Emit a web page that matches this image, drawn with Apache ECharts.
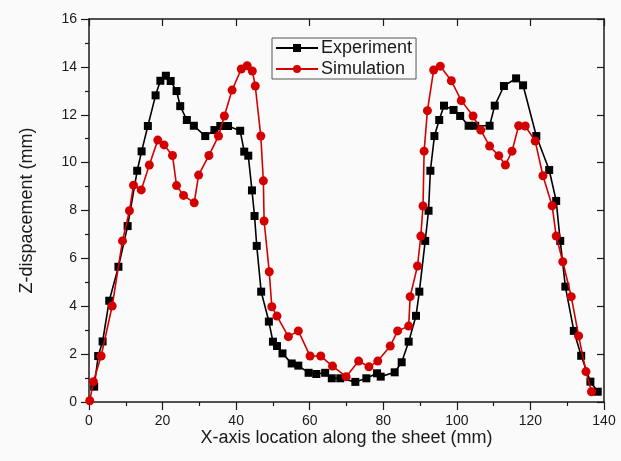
<!DOCTYPE html>
<html>
<head>
<meta charset="utf-8">
<script src="https://cdn.jsdelivr.net/npm/echarts@6/dist/echarts.min.js"></script>
<style>
  html, body { margin: 0; padding: 0; background: #fafafa; }
  #chart { width: 621px; height: 461px; }
</style>
</head>
<body>
<div id="chart"></div>
<script>
// Measured Z-displacement profile across the sheet (x in mm, z in mm)
const expX = [1.4, 2.5, 3.7, 5.5, 8.0, 10.5, 13.1, 14.3, 16.0, 18.1, 19.4, 20.9, 22.2, 23.8, 24.8, 26.6, 28.5, 31.6, 34.1, 35.7, 37.8, 41.1, 42.2, 43.3, 44.3, 45.0, 45.6, 46.8, 48.9, 50.0, 51.1, 52.6, 55.1, 56.9, 59.7, 61.8, 64.2, 66.0, 68.3, 72.4, 75.4, 78.3, 79.3, 83.1, 85.0, 86.9, 88.9, 89.8, 91.4, 92.3, 92.8, 93.9, 95.2, 96.5, 99.1, 100.9, 103.2, 105.0, 108.9, 110.3, 112.8, 116.1, 118.0, 121.6, 125.1, 127.0, 128.1, 129.5, 131.8, 133.8, 136.3, 138.3];
const expZ = [0.64, 1.92, 2.53, 4.23, 5.65, 7.35, 9.66, 10.47, 11.53, 12.81, 13.42, 13.63, 13.41, 12.99, 12.36, 11.78, 11.54, 11.11, 11.36, 11.53, 11.53, 11.33, 10.46, 10.29, 8.84, 7.77, 6.52, 4.61, 3.36, 2.52, 2.34, 2.03, 1.61, 1.52, 1.22, 1.17, 1.22, 0.99, 0.99, 0.84, 0.99, 1.2, 1.06, 1.24, 1.66, 2.52, 3.6, 4.61, 6.73, 7.99, 9.66, 11.11, 11.78, 12.38, 12.2, 11.95, 11.54, 11.54, 11.54, 12.38, 13.2, 13.52, 13.23, 11.11, 9.69, 8.4, 6.73, 4.82, 2.97, 1.93, 0.85, 0.43];

// Simulated Z-displacement profile
const simX = [0.2, 1.2, 3.3, 6.3, 9.1, 11.0, 12.1, 14.2, 16.4, 18.7, 20.4, 22.7, 23.8, 25.7, 28.6, 29.8, 32.6, 35.2, 36.8, 38.9, 41.4, 43.0, 44.4, 45.2, 46.7, 47.4, 47.6, 49.0, 49.7, 51.1, 54.2, 56.9, 60.1, 63.0, 66.2, 69.9, 73.3, 76.1, 78.5, 81.9, 83.9, 86.9, 87.3, 89.3, 90.2, 90.8, 91.1, 92.0, 93.7, 95.5, 98.5, 101.2, 104.4, 106.5, 108.9, 111.4, 113.2, 115.0, 116.8, 118.6, 121.3, 123.4, 125.9, 127.0, 128.8, 131.1, 133.1, 135.1, 136.6];
const simZ = [0.05, 0.85, 1.92, 4.01, 6.73, 7.99, 9.06, 8.86, 9.9, 10.94, 10.74, 10.3, 9.04, 8.63, 8.32, 9.48, 10.3, 11.11, 11.95, 13.03, 13.91, 14.05, 13.83, 13.2, 11.11, 9.24, 7.56, 5.44, 3.98, 3.59, 2.73, 2.97, 1.92, 1.92, 1.5, 1.06, 1.71, 1.47, 1.71, 2.34, 2.97, 3.17, 4.4, 5.68, 6.93, 8.19, 10.48, 12.17, 13.87, 14.03, 13.42, 12.59, 11.95, 11.36, 10.69, 10.29, 9.9, 10.48, 11.54, 11.53, 10.9, 9.45, 8.2, 6.93, 5.86, 4.4, 2.76, 1.27, 0.43];

const xTicks = { min: 0, max: 140, step: 20 };
const yTicks = { min: 0, max: 16, step: 2 };

const pairs = (xs, ys) => xs.map((x, i) => [x, ys[i]]);

const FONT = 'Liberation Sans, Arial, sans-serif';
const INK = '#1a1a1a';

const chart = echarts.init(document.getElementById('chart'), null, { renderer: 'canvas' });

const axisLine = { show: true, onZero: false, lineStyle: { color: INK, width: 1.5 } };
const outerTick = { show: true, inside: false, length: 8, lineStyle: { color: INK, width: 1.2 } };
const outerMinor = { show: true, splitNumber: 2, length: 4, lineStyle: { color: INK, width: 1.2 } };
const innerTick = { show: true, inside: true, length: 7, lineStyle: { color: INK, width: 1.2 } };
const tickLabel = { fontFamily: FONT, fontSize: 14, color: INK, margin: 12 };

chart.setOption({
  backgroundColor: '#fafafa',
  animation: false,
  grid: { left: 89, right: 17, top: 19, bottom: 59, containLabel: false },
  legend: {
    orient: 'vertical',
    left: 272,
    top: 38,
    padding: [1, 4, 1, 3],
    itemGap: 3,
    itemWidth: 42,
    itemHeight: 10,
    borderColor: '#555',
    borderWidth: 1,
    backgroundColor: '#fafafa',
    textStyle: { fontFamily: FONT, fontSize: 18, color: INK, padding: [0, 0, 0, -2] },
    data: ['Experiment', 'Simulation']
  },
  xAxis: [
    {
      type: 'value',
      min: xTicks.min, max: xTicks.max, interval: xTicks.step,
      name: 'X-axis location along the sheet (mm)',
      nameLocation: 'middle',
      nameGap: 27,
      nameMoveOverlap: false,
      nameTextStyle: { fontFamily: FONT, fontSize: 18, color: INK },
      axisLine,
      axisTick: outerTick,
      minorTick: outerMinor,
      axisLabel: tickLabel,
      splitLine: { show: false }
    },
    {
      type: 'value', position: 'top',
      min: xTicks.min, max: xTicks.max, interval: xTicks.step,
      axisLine,
      axisTick: innerTick,
      axisLabel: { show: false },
      splitLine: { show: false }
    }
  ],
  yAxis: [
    {
      type: 'value',
      min: yTicks.min, max: yTicks.max, interval: yTicks.step,
      name: 'Z-dispacement (mm)',
      nameLocation: 'middle',
      nameGap: 53,
      nameRotate: 90,
      nameTextStyle: { fontFamily: FONT, fontSize: 18, color: INK },
      axisLine,
      axisTick: outerTick,
      minorTick: outerMinor,
      axisLabel: tickLabel,
      splitLine: { show: false }
    },
    {
      type: 'value', position: 'right',
      min: yTicks.min, max: yTicks.max, interval: yTicks.step,
      axisLine,
      axisTick: innerTick,
      axisLabel: { show: false },
      splitLine: { show: false }
    }
  ],
  series: [
    {
      name: 'Experiment',
      type: 'line',
      xAxisIndex: 0, yAxisIndex: 0,
      data: pairs(expX, expZ),
      symbol: 'rect',
      symbolSize: 8,
      lineStyle: { color: '#000', width: 1.6 },
      itemStyle: { color: '#000', borderWidth: 0 },
      z: 2
    },
    {
      name: 'Simulation',
      type: 'line',
      xAxisIndex: 0, yAxisIndex: 0,
      data: pairs(simX, simZ),
      symbol: 'circle',
      symbolSize: 9,
      lineStyle: { color: '#d40000', width: 1.6 },
      itemStyle: { color: '#d40000', borderWidth: 0 },
      z: 3
    }
  ]
});
</script>
</body>
</html>
